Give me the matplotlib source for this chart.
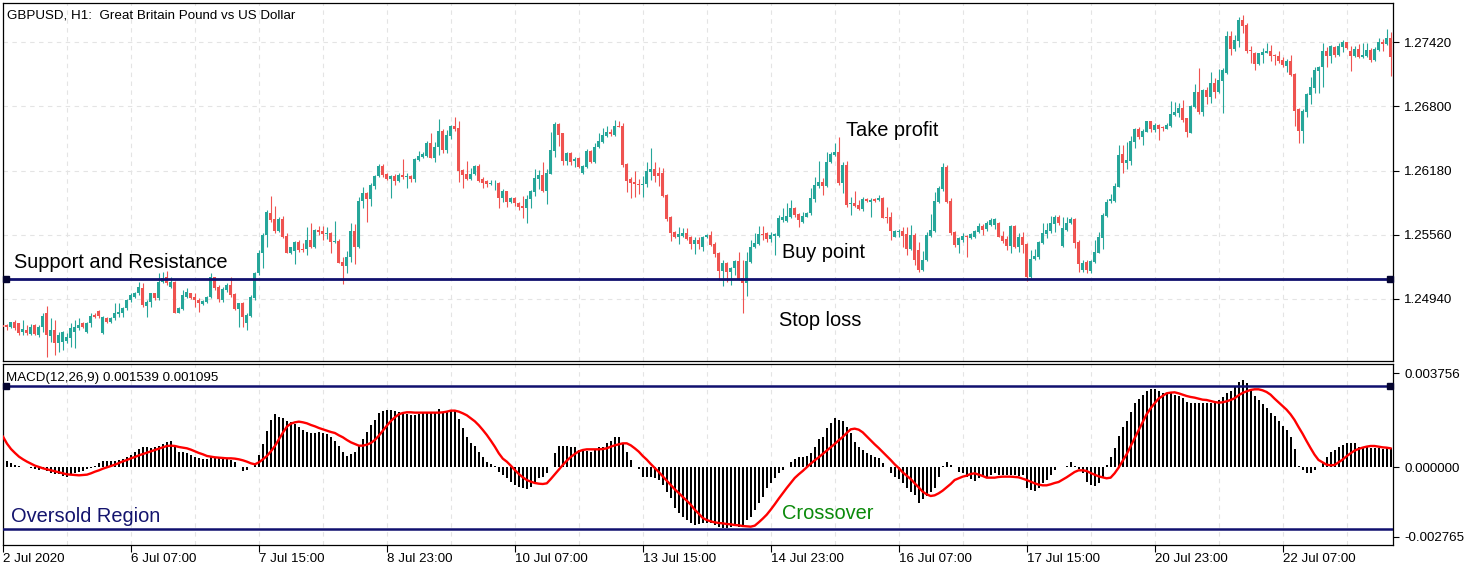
import numpy as np
import matplotlib
matplotlib.use("Agg")
import matplotlib.pyplot as plt
from matplotlib.transforms import blended_transform_factory

# ---------------- DATA (prices in points = price * 1e5) ----------------
open_pts = [
124689,124689,124666,124721,124705,124624,124640,124602,124689,124592,
124672,124801,124582,124640,124511,124527,124537,124560,124624,124656,
124711,124624,124705,124785,124824,124608,124753,124721,124753,124795,
124801,124849,124930,124962,124994,125049,124872,124914,124994,124946,
125107,125155,125059,125107,124808,124840,124962,124994,124962,124930,
124891,124914,124962,125149,125059,124930,125027,125075,124988,124840,
124898,124705,124775,124946,125188,125381,125558,125767,125712,125597,
125712,125548,125387,125407,125490,125423,125419,125510,125445,125606,
125597,125571,125580,125493,125500,125294,125262,125349,125597,125445,
125886,125967,125909,126031,126128,126228,126147,126099,126128,126083,
126137,126121,126128,126099,126282,126315,126321,126450,126305,126405,
126563,126379,126517,126611,126595,126186,126147,126102,126147,126228,
126096,126080,126051,126057,126063,125919,125983,125880,125919,125870,
125838,125822,125902,125976,126096,126137,125986,126147,126373,126630,
126540,126276,126347,126276,126299,126160,126218,126373,126266,126405,
126459,126514,126556,126524,126611,126611,126244,126096,126073,126051,
126044,126047,126170,126195,126160,126160,125944,125729,125584,125542,
125548,125574,125535,125471,125510,125445,125535,125558,125471,125387,
125213,125291,125197,125242,125307,125139,125097,125300,125439,125471,
125568,125574,125516,125551,125548,125703,125696,125735,125822,125758,
125687,125735,125767,125902,126031,126073,126031,126266,126331,126363,
126057,126234,125854,125864,125848,125806,125906,125880,125906,125896,
125919,125735,125735,125542,125587,125597,125564,125419,125558,125413,
125220,125316,125548,125600,125880,125999,126218,125886,125590,125461,
125510,125551,125526,125542,125590,125645,125613,125654,125654,125671,
125548,125516,125452,125645,125445,125535,125471,125155,125323,125349,
125484,125568,125597,125664,125735,125452,125606,125671,125712,125493,
125220,125300,125213,125300,125387,125526,125741,125886,125890,126025,
126341,126257,126277,126460,126582,126508,126557,126660,126573,126621,
126605,126582,126611,126718,126734,126789,126685,126547,126792,126943,
126750,126959,126888,127030,126943,127049,127120,127481,127352,127436,
127635,127587,127346,127320,127207,127297,127320,127339,127297,127288,
127249,127194,127243,127114,126772,126566,126750,126911,126982,127146,
127178,127336,127291,127378,127297,127378,127423,127336,127288,127352,
127275,127291,127346,127249,127346,127426,127404,127458]

high_pts = [
124705,124698,124721,124737,124711,124737,124689,124698,124698,124689,
124808,124875,124753,124737,124624,124631,124608,124705,124737,124753,
124721,124721,124801,124808,124833,124775,124769,124769,124898,124904,
124866,124936,124994,125010,125107,125091,124930,125001,125001,125194,
125197,125213,125155,125114,124866,125027,125043,125001,124994,124946,
124930,124969,125188,125155,125075,125052,125091,125155,124994,124904,
124914,124801,124978,125204,125413,125574,125799,125935,125838,125735,
125741,125574,125445,125497,125510,125484,125632,125677,125613,125645,
125645,125632,125590,125693,125519,125349,125403,125677,125664,125928,
126025,125976,126057,126137,126244,126241,126160,126137,126147,126160,
126289,126160,126137,126305,126369,126363,126469,126540,126459,126678,
126579,126572,126620,126695,126662,126195,126273,126208,126234,126244,
126115,126089,126089,126089,126073,125999,125986,125928,125922,125880,
125935,125944,125993,126195,126186,126266,126192,126556,126653,126643,
126546,126363,126363,126315,126308,126234,126385,126379,126450,126540,
126588,126611,126579,126669,126662,126637,126250,126121,126176,126096,
126128,126266,126395,126260,126212,126202,125951,125741,125597,125632,
125622,125622,125548,125535,125542,125548,125564,125597,125493,125397,
125316,125300,125252,125316,125397,125316,125397,125510,125574,125645,
125645,125590,125590,125580,125751,125815,125864,125896,125832,125767,
125783,125783,126009,126121,126276,126105,126363,126363,126450,126508,
126266,126273,125922,125986,125896,125922,125919,125912,125912,125944,
125928,125832,125783,125606,125613,125638,125638,125654,125574,125493,
125403,125590,125758,125976,126031,126250,126234,125919,125597,125542,
125574,125558,125580,125606,125677,125664,125696,125719,125725,125687,
125597,125548,125654,125654,125580,125587,125477,125413,125419,125503,
125677,125671,125741,125751,125751,125735,125729,125729,125719,125510,
125316,125316,125316,125510,125590,125774,125902,125954,126057,126427,
126428,126460,126515,126589,126605,126579,126663,126660,126637,126631,
126611,126644,126856,126846,126837,126863,126692,126814,127017,127169,
126966,126991,127136,127072,127159,127169,127532,127532,127490,127661,
127684,127610,127384,127329,127320,127362,127416,127394,127304,127339,
127275,127255,127297,127120,126782,126772,126927,127088,127178,127191,
127416,127378,127394,127384,127416,127442,127426,127384,127384,127400,
127410,127410,127362,127371,127458,127449,127545,127516]

low_pts = [
124624,124640,124656,124640,124592,124592,124592,124592,124589,124576,
124624,124383,124527,124399,124431,124447,124511,124479,124463,124640,
124656,124614,124672,124753,124753,124602,124705,124705,124737,124769,
124769,124833,124914,124946,124978,124866,124769,124866,124930,124930,
125091,125075,125043,124801,124801,124833,124946,124936,124866,124817,
124882,124904,124946,125027,124914,124914,125010,124962,124833,124672,
124672,124640,124769,124930,125171,125236,125445,125687,125580,125590,
125532,125381,125374,125278,125397,125397,125365,125436,125436,125558,
125510,125516,125387,125477,125284,125085,125194,125300,125278,125429,
125815,125687,125838,125999,126115,126115,126089,125919,126041,126073,
126102,126015,126073,126073,126276,126305,126315,126299,126266,126331,
126353,126353,126482,126566,126073,126009,126089,126089,126137,126073,
126009,126025,126041,125993,125822,125877,125832,125870,125838,125799,
125722,125671,125815,125938,125999,125976,125854,126147,126308,126421,
126234,126234,126234,126218,126202,126147,126202,126250,126250,126395,
126450,126501,126514,126514,126598,126218,125976,125919,125922,125954,
125928,126025,126089,126073,126031,125928,125696,125503,125526,125471,
125542,125510,125419,125374,125419,125407,125526,125455,125349,125123,
125068,125107,125075,125171,125123,124801,124972,125284,125429,125461,
125510,125493,125493,125365,125542,125687,125687,125719,125735,125632,
125671,125729,125751,125880,126009,125944,126025,126250,126321,126041,
125960,125832,125751,125832,125799,125793,125880,125729,125880,125886,
125719,125677,125510,125535,125535,125445,125365,125413,125268,125204,
125213,125310,125542,125590,125870,125986,125870,125558,125439,125381,
125493,125349,125516,125526,125580,125558,125600,125645,125613,125535,
125477,125413,125381,125429,125397,125381,125117,125139,125316,125323,
125471,125526,125580,125590,125654,125445,125600,125664,125429,125204,
125204,125188,125194,125284,125381,125419,125729,125870,125880,126018,
126161,126193,126235,126396,126483,126428,126550,126557,126557,126476,
126566,126579,126605,126708,126702,126653,126508,126541,126782,126727,
126708,126824,126837,126885,126927,126740,127114,127297,127339,127371,
127513,127320,127223,127152,127201,127223,127313,127243,127201,127223,
127178,127136,127094,126611,126450,126450,126702,126824,126927,126927,
126991,127185,127223,127281,127288,127329,127355,127146,127281,127265,
127265,127281,127233,127239,127339,127339,127394,127094]

close_pts = [
124672,124672,124714,124656,124614,124647,124608,124672,124602,124672,
124775,124592,124640,124511,124592,124624,124576,124656,124672,124689,
124672,124711,124775,124769,124775,124769,124721,124753,124801,124817,
124849,124930,124978,124994,125059,124879,124914,124994,124946,125107,
125139,125091,125107,124808,124849,124978,125010,124946,124930,124898,
124924,124962,125149,125043,124936,125033,125075,124978,124840,124898,
124769,124785,124962,125188,125381,125558,125783,125703,125597,125712,
125542,125387,125442,125490,125413,125413,125510,125442,125606,125584,
125568,125580,125493,125500,125291,125262,125349,125597,125445,125886,
125967,125909,126041,126128,126228,126137,126099,126128,126083,126137,
126115,126128,126102,126292,126321,126337,126450,126305,126411,126563,
126379,126524,126611,126582,126179,126137,126096,126147,126228,126080,
126063,126051,126063,126063,125919,125983,125880,125919,125864,125832,
125822,125906,125986,126112,126137,125986,126160,126379,126630,126527,
126276,126347,126266,126289,126218,126224,126373,126266,126411,126466,
126524,126556,126530,126611,126604,126234,126083,126063,126047,126044,
126051,126176,126195,126128,126128,125938,125709,125574,125542,125564,
125580,125519,125471,125510,125468,125542,125558,125461,125374,125213,
125291,125197,125242,125307,125133,125097,125307,125445,125477,125568,
125561,125516,125558,125564,125719,125735,125741,125815,125751,125703,
125741,125774,125912,126041,126073,126031,126266,126337,126363,126057,
126234,125848,125864,125838,125806,125906,125886,125896,125886,125919,
125725,125725,125597,125597,125597,125548,125419,125558,125316,125220,
125316,125558,125606,125890,126015,126218,125880,125574,125461,125526,
125551,125535,125568,125597,125645,125606,125671,125703,125709,125542,
125503,125452,125645,125445,125535,125461,125155,125323,125355,125493,
125574,125606,125671,125735,125677,125622,125677,125709,125477,125275,
125284,125220,125310,125397,125535,125751,125880,125902,126031,126331,
126257,126283,126467,126582,126508,126566,126660,126579,126621,126582,
126589,126621,126727,126743,126789,126669,126557,126805,126943,126750,
126959,126888,127030,126943,127056,127152,127481,127352,127442,127635,
127577,127339,127336,127207,127313,127329,127339,127288,127291,127239,
127201,127243,127104,126760,126566,126760,126921,126985,127152,127185,
127336,127291,127384,127297,127384,127423,127362,127288,127352,127275,
127297,127346,127249,127352,127426,127407,127458,127281]

# MACD main (histogram) and signal, in millionths
macd_hist_u = [
299,259,192,100,60,33,7,-7,-46,-100,-73,-139,-206,-245,-272,-325,-365,-299,-232,-179,
-126,-73,-7,60,166,245,272,272,272,299,338,405,511,630,736,803,803,776,803,856,
936,1002,1042,856,630,617,591,498,431,365,338,325,431,431,391,365,352,299,206,33,
-126,-100,7,100,498,936,1466,1891,2130,2024,1957,1864,1798,1732,1626,1493,1413,1360,1387,1413,
1387,1334,1201,1068,856,630,458,537,630,856,1148,1413,1679,1891,2156,2263,2289,2289,2263,2223,
2183,2130,2090,2090,2130,2156,2156,2183,2183,2316,2223,2223,2289,2289,1917,1559,1227,989,856,630,
431,232,139,60,-166,-299,-431,-564,-697,-763,-829,-869,-763,-564,-431,-365,-232,33,564,856,
856,856,829,803,697,670,670,630,697,803,803,962,1068,1201,1227,989,630,299,33,-73,
-365,-365,-365,-431,-498,-697,-962,-1227,-1626,-1825,-1957,-2090,-2196,-2289,-2249,-2196,-2223,-2223,-2289,-2355,
-2395,-2422,-2382,-2329,-2355,-2289,-2090,-1957,-1692,-1427,-1161,-829,-630,-431,-232,-100,7,232,325,405,
431,458,564,829,1121,1201,1559,1785,1957,1891,1864,1626,1387,1028,803,697,591,498,431,365,
192,33,-232,-365,-471,-604,-829,-962,-1095,-1400,-1267,-1135,-962,-829,-365,60,232,100,7,-166,
-232,-365,-471,-524,-431,-391,-365,-299,-232,-299,-299,-299,-299,-299,-338,-299,-829,-896,-936,-829,
-630,-498,-299,-100,7,33,60,206,60,-73,-232,-564,-697,-736,-630,-431,100,405,763,1254,
1626,1851,2223,2555,2714,2886,3059,3112,3112,3059,2953,2979,2979,2886,2847,2780,2621,2581,2581,2555,
2555,2555,2555,2581,2687,2820,2953,3059,3218,3417,3483,3351,3085,2847,2687,2528,2356,2183,2050,1864,
1652,1493,1201,723,60,-100,-206,-232,-100,7,166,405,630,697,803,896,962,989,962,829,
803,803,763,763,763,723,763,763]

macd_signal_u = [
1227,949,736,577,431,325,232,153,73,20,-33,-73,-113,-153,-192,-232,-272,-285,-299,-312,
-299,-285,-232,-166,-113,-46,7,60,113,179,245,299,365,418,484,537,591,644,697,750,
803,856,869,856,816,790,763,710,644,577,524,458,431,405,391,378,365,365,352,325,
285,232,166,126,206,325,458,644,856,1121,1387,1626,1745,1798,1825,1798,1758,1692,1639,1572,
1519,1466,1413,1373,1281,1201,1095,1002,936,869,869,909,975,1095,1267,1466,1665,1851,1997,2117,
2170,2196,2196,2183,2183,2183,2183,2183,2183,2183,2196,2223,2263,2263,2223,2156,2077,1957,1838,1679,
1493,1294,1068,829,564,352,232,73,-100,-259,-391,-498,-564,-617,-644,-657,-630,-458,-272,-86,
100,272,418,537,644,697,723,723,723,723,736,763,829,882,922,962,962,882,763,630,
458,312,139,-20,-179,-352,-524,-697,-869,-1015,-1174,-1320,-1480,-1679,-1838,-2010,-2090,-2143,-2183,-2209,
-2223,-2249,-2263,-2289,-2302,-2329,-2342,-2355,-2316,-2183,-2037,-1878,-1679,-1466,-1241,-1028,-816,-617,-418,-272,
-139,7,153,285,405,537,670,803,936,1082,1214,1373,1519,1546,1506,1400,1241,1082,922,776,
617,458,299,126,-20,-192,-325,-458,-630,-790,-962,-1068,-1135,-1108,-1028,-922,-790,-657,-498,-431,
-365,-325,-259,-232,-285,-338,-405,-405,-405,-378,-365,-365,-365,-378,-391,-445,-498,-564,-630,-683,
-710,-710,-670,-617,-577,-484,-391,-285,-179,-113,-113,-139,-219,-285,-352,-391,-431,-405,-232,-7,
259,524,843,1161,1480,1798,2117,2355,2554,2740,2846,2953,2979,2992,2953,2899,2846,2807,2780,2740,
2700,2687,2647,2608,2581,2594,2634,2687,2753,2873,2966,3032,3085,3112,3112,3072,3006,2899,2740,2594,
2448,2302,2117,1891,1612,1347,1055,776,511,299,206,113,86,100,206,312,445,564,670,736,
790,829,856,856,829,803,790,763]

sr_level = 1.25133                      # support / resistance line
macd_levels = [0.003244, -0.002448]     # MACD level lines
price_ticks = [1.24940, 1.25560, 1.26180, 1.26800, 1.27420]
macd_ticks = [-0.002765, 0.0, 0.003756]
date_labels = ["2 Jul 2020", "6 Jul 07:00", "7 Jul 15:00", "8 Jul 23:00", "10 Jul 07:00",
               "13 Jul 15:00", "14 Jul 23:00", "16 Jul 07:00", "17 Jul 15:00",
               "20 Jul 23:00", "22 Jul 07:00"]

# ---------------- PREP ----------------
o = np.array(open_pts) / 1e5
h = np.array(high_pts) / 1e5
l = np.array(low_pts) / 1e5
c = np.array(close_pts) / 1e5
h = np.maximum.reduce([h, o, c])
l = np.minimum.reduce([l, o, c])
hist = np.array(macd_hist_u) * 1e-6
sig = np.array(macd_signal_u) * 1e-6
n = len(c)
x = np.arange(n)

W, H = 1471, 572
fig = plt.figure(figsize=(W / 100, H / 100), dpi=100)
fig.patch.set_facecolor("white")

ax = fig.add_axes([3 / W, 1 - 361 / H, 1390 / W, 358 / H])
ax2 = fig.add_axes([3 / W, 1 - 545 / H, 1390 / W, 181 / H])

XL = (0.125, 347.625)
NAVY = "#10106e"
GRID = "#e4e4e4"
BULL = "#26a69a"
BEAR = "#ef5350"
SMALL = dict(family="Liberation Sans", size=9.6)

for a in (ax, ax2):
    a.set_xlim(*XL)
    for s in a.spines.values():
        s.set_color("black")
        s.set_linewidth(0.9)
    for k in range(0, 22):
        a.axvline(16 * k, color=GRID, lw=0.8, ls=(0, (4, 4)), zorder=0)

# ---------------- PRICE PANEL ----------------
ax.set_ylim(1.24341, 1.27799)
for pt in price_ticks:
    ax.axhline(pt, color=GRID, lw=0.8, ls=(0, (4, 4)), zorder=0)

up = c >= o
cols = np.where(up, BULL, BEAR)
ax.vlines(x, l, h, colors=cols, linewidth=0.8, zorder=2)
body = np.maximum(np.abs(c - o), 0.00008)
ax.bar(x, body, bottom=np.minimum(o, c), width=0.72, color=cols, linewidth=0, zorder=3)

ax.axhline(sr_level, color=NAVY, lw=2.0, zorder=4)
tr = blended_transform_factory(ax.transAxes, ax.transData)
ax.plot([0.0025, 0.9975], [sr_level, sr_level], "s", ms=4.5, color="#050530",
        transform=tr, zorder=5, clip_on=False)

ax.set_xticks([])
ax.yaxis.tick_right()
ax.set_yticks(price_ticks)
ax.set_yticklabels([f"{v:.5f}" for v in price_ticks], fontdict=SMALL)
ax.tick_params(axis="y", direction="out", length=4, width=0.8, pad=4)

# ---------------- MACD PANEL ----------------
ax2.set_ylim(-0.003085, 0.004119)
ax2.bar(x, hist, width=0.5, color="black", linewidth=0, zorder=2)
ax2.plot(x, sig, color="#ff0000", lw=1.7, zorder=4, solid_joinstyle="round")
for lv in macd_levels:
    ax2.axhline(lv, color=NAVY, lw=1.8, zorder=3)
tr2 = blended_transform_factory(ax2.transAxes, ax2.transData)
ax2.plot([0.0025, 0.9975], [macd_levels[0]] * 2, "s", ms=4.5, color="#050530",
         transform=tr2, zorder=5, clip_on=False)

ax2.yaxis.tick_right()
ax2.set_yticks(macd_ticks)
ax2.set_yticklabels([f"{v:.6f}" for v in macd_ticks], fontdict=SMALL)
ax2.tick_params(axis="y", direction="out", length=4, width=0.8, pad=4)
ax2.set_xticks([32 * k for k in range(len(date_labels))])
ax2.set_xticklabels(date_labels, fontdict=SMALL, ha="left")
ax2.tick_params(axis="x", direction="out", length=5, width=0.8, pad=1)

# ---------------- TEXTS ----------------
def ftext(px, py, s, **kw):
    fig.text(px / W, 1 - py / H, s, va="baseline", ha="left", **kw)

ftext(7, 18.3, "GBPUSD, H1:  Great Britain Pound vs US Dollar", **SMALL, color="black")
ftext(6, 380.5, "MACD(12,26,9) 0.001539 0.001095", **SMALL, color="black")
BIG = dict(family="Liberation Sans", size=14.4)
ftext(14, 268.3, "Support and Resistance", **BIG, color="black")
ftext(846, 135.7, "Take profit", **BIG, color="black")
ftext(782, 258.3, "Buy point", **BIG, color="black")
ftext(779, 326, "Stop loss", **BIG, color="black")
ftext(11, 521.7, "Oversold Region", **BIG, color="#14146e")
ftext(782, 519.3, "Crossover", **BIG, color="#0a8a0a")

fig.savefig("out.png", dpi=100, facecolor="white")
